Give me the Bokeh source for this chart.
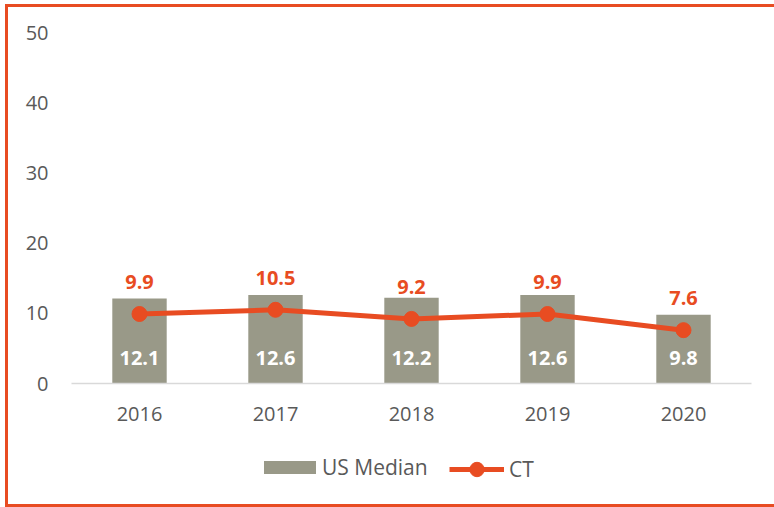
from bokeh.plotting import figure
from bokeh.layouts import column
from bokeh.models import (ColumnDataSource, FactorRange, Range1d, LabelSet,
                          Legend, LegendItem, FixedTicker)
from bokeh.core.properties import value
from bokeh.embed import file_html
from bokeh.resources import INLINE

years = ["2016", "2017", "2018", "2019", "2020"]
us_median = [12.1, 12.6, 12.2, 12.6, 9.8]
ct = [9.9, 10.5, 9.2, 9.9, 7.6]
y_ticks = [0, 10, 20, 30, 40, 50]

ORANGE = "#E84C22"
GRAY = "#999988"
TEXT = "#595959"
FONT = "Open Sans"
TOTAL_W = 769

src = ColumnDataSource(dict(
    year=years, us=us_median, ct=ct,
    us_lbl=[f"{v:.1f}" for v in us_median],
    ct_lbl=[f"{v:.1f}" for v in ct],
    zero=[0] * len(years),
))

p = figure(frame_width=680, frame_height=351,
           x_range=FactorRange(*years, range_padding=0),
           y_range=Range1d(0, 50), output_backend="svg", toolbar_location=None,
           min_border_left=66, min_border_right=TOTAL_W - 66 - 680,
           min_border_top=28, min_border_bottom=55)
p.outline_line_color = None
p.border_fill_color = None
p.grid.visible = False

bars = p.vbar(x="year", top="us", width=0.4, source=src, fill_color=GRAY,
              line_color=None)
ln = p.line(x="year", y="ct", source=src, line_color=ORANGE, line_width=5)
sc = p.scatter(x="year", y="ct", source=src, size=15, fill_color=ORANGE,
               line_color=ORANGE)

p.add_layout(LabelSet(x="year", y="ct", text="ct_lbl", source=src, y_offset=32,
                      text_align="center", text_baseline="middle",
                      text_color=ORANGE, text_font=value(FONT),
                      text_font_style="bold", text_font_size="20px"))
p.add_layout(LabelSet(x="year", y="zero", text="us_lbl", source=src, y_offset=26,
                      text_align="center", text_baseline="middle",
                      text_color="white", text_font=value(FONT),
                      text_font_style="bold", text_font_size="20px"))

xa = p.xaxis[0]
xa.axis_line_color = "#D9D9D9"
xa.axis_line_width = 1.5
xa.major_tick_line_color = None
xa.minor_tick_line_color = None
xa.major_label_standoff = 17
xa.major_label_text_font = FONT
xa.major_label_text_font_size = "20px"
xa.major_label_text_color = TEXT

ya = p.yaxis[0]
ya.ticker = FixedTicker(ticks=y_ticks)
ya.axis_line_color = None
ya.major_tick_line_color = None
ya.minor_tick_line_color = None
ya.major_label_standoff = 17
ya.major_label_text_font = FONT
ya.major_label_text_font_size = "20px"
ya.major_label_text_color = TEXT

# legend strip below the chart; its proxy glyphs use the same data but sit
# outside the strip's visible y range, so only the legend shows
lg = figure(width=TOTAL_W, height=69, x_range=FactorRange(*years),
            y_range=Range1d(100, 101), output_backend="svg",
            toolbar_location=None, x_axis_location=None, y_axis_location=None,
            min_border=0, min_border_left=0, min_border_right=0,
            min_border_top=0, min_border_bottom=0)
lg.grid.visible = False
lg.outline_line_color = None
lg.border_fill_color = None
lg.background_fill_color = None
lb = lg.vbar(x="year", top="us", width=0.4, source=src, fill_color=GRAY,
             line_color=None)
ll = lg.line(x="year", y="ct", source=src, line_color=ORANGE, line_width=5)
ls = lg.scatter(x="year", y="ct", source=src, size=15, fill_color=ORANGE,
                line_color=ORANGE)

common = dict(orientation="horizontal", label_text_font=FONT,
              label_text_font_size="21px", label_text_color=TEXT,
              border_line_color=None, background_fill_alpha=0, padding=6,
              margin=0)
leg_us = Legend(items=[LegendItem(label="US Median", renderers=[lb])],
                location=(186, 26), glyph_width=65, glyph_height=16,
                label_standoff=0, **common)
leg_ct = Legend(items=[LegendItem(label="CT", renderers=[ll, ls])],
                location=(378, 20), glyph_width=55, glyph_height=36,
                label_standoff=5, **common)
lg.add_layout(leg_us, "center")
lg.add_layout(leg_ct, "center")

shadow = (f"inset 3px 0 0 {ORANGE}, inset 0 3px 0 {ORANGE}, "
          f"inset 0 -3px 0 {ORANGE}")
layout = column(p, lg, spacing=0,
                styles={"margin-left": "5px", "margin-top": "4px",
                        "box-shadow": shadow})

open("out.html", "w").write(file_html(layout, INLINE))
